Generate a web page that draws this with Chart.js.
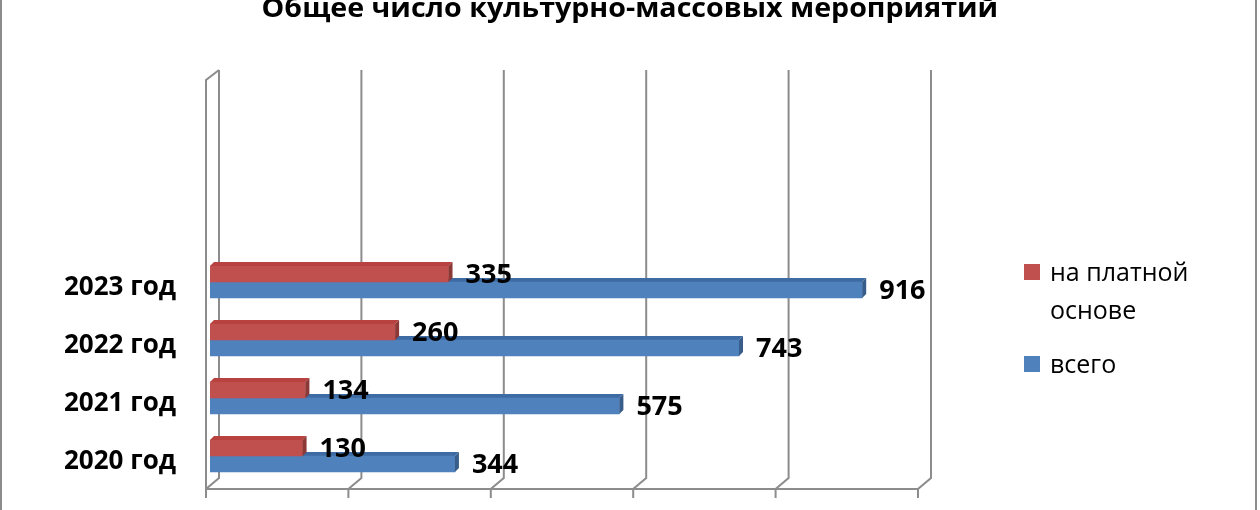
<!DOCTYPE html>
<html>
<head>
<meta charset="utf-8">
<script src="https://cdn.jsdelivr.net/npm/chart.js@4.4.1/dist/chart.umd.min.js"></script>
<style>
  html, body { margin: 0; padding: 0; background: #fff; overflow: hidden; }
  .frame { position: relative; width: 1260px; height: 510px; overflow: hidden; }
  .frame:before { content: ''; position: absolute; left: 0; top: 0; bottom: 0; width: 2px; background: #8c8c8c; }
  .frame:after { content: ''; position: absolute; left: 1255px; top: 0; bottom: 0; width: 2px; background: #8c8c8c; }
  .chart-box { position: absolute; left: 0; top: 0; width: 1260px; height: 510px; }
  .title { position: absolute; left: 0; width: 1260px; top: -11px; text-align: center;
           font-family: "Open Sans", sans-serif; font-weight: bold; font-size: 26px; color: #000;
           transform: scaleX(1.1); transform-origin: 631px 0; white-space: nowrap; }
  .legend { position: absolute; left: 1024px; top: 252px; font-family: "Open Sans", sans-serif; font-size: 25px; color: #000; }
  .legend .item { position: relative; padding-left: 26px; line-height: 38px; }
  .legend .sw { position: absolute; left: 0; top: 12px; width: 16px; height: 16px; }
</style>
</head>
<body>
<div class="frame">
  <div class="chart-box"><canvas id="eventsChart"></canvas></div>
  <div class="title">Общее число культурно-массовых мероприятий</div>
  <div class="legend" id="legend"></div>
</div>
<script>
// Данные графика
const years = ['2020 год', '2021 год', '2022 год', '2023 год'];
const paidEvents = [130, 134, 260, 335];
const totalEvents = [344, 575, 743, 916];
const xTicks = [0, 200, 400, 600, 800, 1000];
const emptyRows = 3;

const seriesNames = ['на платной основе', 'всего'];
const redFace = '#C0504D';
const blueFace = '#4F81BD';

// строки сверху вниз: пустые, затем 2023 ... 2020
const rowLabels = Array(emptyRows).fill('').concat(years.slice().reverse());
const pad = Array(emptyRows).fill(null);
const paidRows = pad.concat(paidEvents.slice().reverse());
const totalRows = pad.concat(totalEvents.slice().reverse());

const DEPTH = 4;

function face(ctx, pts, color) {
    ctx.beginPath();
    ctx.moveTo(pts[0][0], pts[0][1]);
    for (let i = 1; i < pts.length; i++) ctx.lineTo(pts[i][0], pts[i][1]);
    ctx.closePath();
    ctx.fillStyle = color;
    ctx.fill();
}

function eachBar(chart, i, fn) {
    const data = chart.data.datasets[i].data;
    chart.getDatasetMeta(i).data.forEach((bar, j) => {
        if (data[j] == null) return;
        fn(bar, data[j]);
    });
}

// Псевдо-3D: стенки, пол и сетка
const gridPlugin = {
    id: 'grid3d',
    beforeDatasetsDraw(chart) {
        const ctx = chart.ctx;
        const x = chart.scales.x;
        const area = chart.chartArea;
        const backTop = area.top - 9, backBottom = area.bottom - 7;
        const front = area.bottom + 4;
        ctx.save();
        ctx.strokeStyle = '#8c8c8c';
        ctx.lineWidth = 2;
        xTicks.forEach(v => {
            const px = x.getPixelForValue(v);
            ctx.beginPath();
            ctx.moveTo(px + 9, backTop);
            ctx.lineTo(px + 9, backBottom);
            ctx.lineTo(px - 4, front);
            ctx.lineTo(px - 4, front + 9);
            ctx.stroke();
        });
        const x0 = x.getPixelForValue(0);
        ctx.beginPath();
        ctx.moveTo(x0 - 4, front);
        ctx.lineTo(x0 - 4, backTop + 10);
        ctx.lineTo(x0 + 9, backTop);
        ctx.stroke();
        ctx.beginPath();
        ctx.moveTo(x0 - 4, front);
        ctx.lineTo(x.getPixelForValue(1000) - 4, front);
        ctx.stroke();

        // верхняя грань синих столбцов (за красными)
        eachBar(chart, 1, bar => {
            const top = bar.y - bar.height / 2;
            face(ctx, [[bar.base, top], [bar.base + DEPTH, top - DEPTH], [bar.x + DEPTH, top - DEPTH], [bar.x, top]], '#3E6BA3');
        });
        ctx.restore();
    },
    afterDatasetsDraw(chart) {
        const ctx = chart.ctx;
        ctx.save();
        [[1, '#385D8A'], [0, '#8C3836']].forEach(([i, side]) => {
            eachBar(chart, i, bar => {
                const top = bar.y - bar.height / 2;
                const bottom = bar.y + bar.height / 2;
                if (i === 0) {
                    face(ctx, [[bar.base, top], [bar.base + DEPTH, top - DEPTH], [bar.x + DEPTH, top - DEPTH], [bar.x, top]], '#B8423F');
                }
                face(ctx, [[bar.x, top], [bar.x + DEPTH, top - DEPTH], [bar.x + DEPTH, bottom - DEPTH], [bar.x, bottom]], side);
            });
        });
        // подписи значений
        ctx.fillStyle = '#000';
        ctx.font = 'bold 27px "Open Sans"';
        ctx.textBaseline = 'middle';
        ctx.textAlign = 'left';
        [0, 1].forEach(i => {
            eachBar(chart, i, (bar, v) => {
                ctx.fillText(String(v), bar.x + 17, bar.y + 1);
            });
        });
        ctx.restore();
    }
};

new Chart(document.getElementById('eventsChart'), {
    type: 'bar',
    data: {
        labels: rowLabels,
        datasets: [
            { label: seriesNames[0], data: paidRows, backgroundColor: redFace, barThickness: 16 },
            { label: seriesNames[1], data: totalRows, backgroundColor: blueFace, barThickness: 16 }
        ]
    },
    options: {
        indexAxis: 'y',
        responsive: true,
        maintainAspectRatio: false,
        animation: false,
        layout: { padding: { left: 0, right: 338, top: 79, bottom: 25 } },
        plugins: {
            legend: { display: false },
            tooltip: { enabled: false },
            title: { display: false }
        },
        scales: {
            x: {
                min: 0,
                max: 1000,
                ticks: { display: false, stepSize: 200 },
                grid: { display: false },
                border: { display: false },
                afterFit(scale) { scale.height = 0; }
            },
            y: {
                grid: { display: false },
                border: { display: false },
                ticks: {
                    color: '#000',
                    font: { family: '"Open Sans"', size: 26, weight: 'bold' },
                    padding: 26,
                    labelOffset: 6
                },
                afterFit(scale) {
                    scale.width = 210;
                    scale.paddingTop = 0;
                    scale.paddingBottom = 0;
                }
            }
        }
    },
    plugins: [gridPlugin]
});

// легенда
const legend = document.getElementById('legend');
[[redFace, 'на платной<br>основе'], [blueFace, 'всего']].forEach(([c, t], k) => {
    const item = document.createElement('div');
    item.className = 'item';
    if (k === 1) item.style.marginTop = '16px';
    item.innerHTML = '<span class="sw" style="background:' + c + '"></span>' + t;
    legend.appendChild(item);
});
</script>
</body>
</html>
